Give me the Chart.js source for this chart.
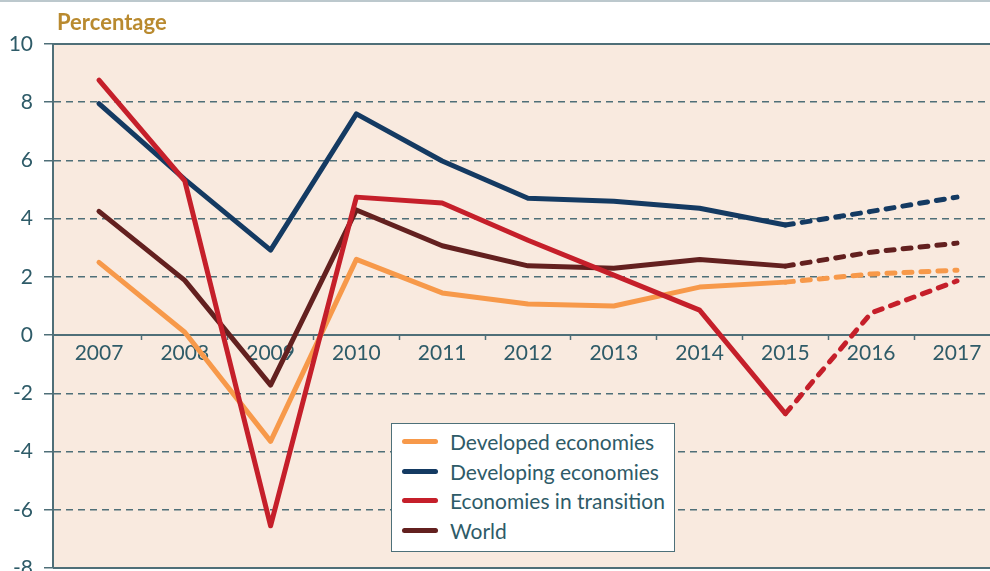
<!DOCTYPE html>
<html>
<head>
<meta charset="utf-8">
<script src="https://cdn.jsdelivr.net/npm/chart.js@4"></script>
<style>
  body { margin: 0; overflow: hidden; background: #fff; }
  #wrap { position: relative; width: 990px; height: 571px; }
  #unit { position: absolute; left: 57px; top: 8px; font: bold 22px Lato, sans-serif; color: #b98a2f; }
  #legend {
    position: absolute; left: 391px; top: 423px; width: 282px; height: 124px;
    background: #fff; border: 1.5px solid #4d7079; padding-top: 3px; box-sizing: content-box;
    font: 21px Lato, sans-serif; color: #2e5b68;
  }
  #legend .row { height: 29.5px; display: flex; align-items: center; }
  #legend .sw { width: 36px; height: 5px; border-radius: 3px; margin: 0 12px 0 10px; }
</style>
</head>
<body>
<div id="wrap">
  <canvas id="growthChart"></canvas>
  <div id="unit">Percentage</div>
  <div id="legend"></div>
</div>
<script>
// years on the x axis
const years = [2007, 2008, 2009, 2010, 2011, 2012, 2013, 2014, 2015, 2016, 2017];
const yTicks = [10, 8, 6, 4, 2, 0, -2, -4, -6, -8];

// series (2016, 2017 are projections -> dashed)
const developed = [2.5, 0.1, -3.65, 2.6, 1.45, 1.07, 1.0, 1.65, 1.82, 2.1, 2.23];
const developing = [7.95, 5.35, 2.92, 7.6, 5.98, 4.7, 4.6, 4.36, 3.78, 4.25, 4.74];
const transition = [8.76, 5.3, -6.55, 4.74, 4.54, 3.26, 2.06, 0.86, -2.7, 0.76, 1.86];
const world = [4.25, 1.88, -1.72, 4.3, 3.07, 2.38, 2.3, 2.6, 2.37, 2.85, 3.16];

const seriesNames = ['Developed economies', 'Developing economies', 'Economies in transition', 'World'];
const seriesColors = ['#f7994a', '#143a62', '#c51f2a', '#63201f'];
const seriesValues = [developed, developing, transition, world];
const seriesOrder = [2, 3, 0, 1]; // red on top

const axisColor = '#4f6f78';
const textColor = '#2e5b68';
const lastActual = years.indexOf(2015);

// html legend
const legendEl = document.getElementById('legend');
seriesNames.forEach((name, i) => {
  const row = document.createElement('div');
  row.className = 'row';
  row.innerHTML = '<span class="sw" style="background:' + seriesColors[i] + '"></span>' + name;
  legendEl.appendChild(row);
});

// background, top rule and frame lines
const framePlugin = {
  id: 'frame',
  beforeDraw(chart) {
    const { ctx, chartArea: a } = chart;
    ctx.save();
    ctx.fillStyle = '#f9eadf';
    ctx.fillRect(a.left, a.top, a.right - a.left, a.bottom - a.top);
    ctx.fillStyle = '#bcc8cd';
    ctx.fillRect(0, 0, chart.width, 2);
    ctx.restore();
  },
  beforeDatasetsDraw(chart) {
    const { ctx, chartArea: a, scales } = chart;
    ctx.save();
    ctx.strokeStyle = axisColor;
    ctx.lineWidth = 2;
    [10, 0, -8].forEach(v => {
      const y = Math.round(scales.y.getPixelForValue(v));
      ctx.beginPath();
      ctx.moveTo(a.left, y);
      ctx.lineTo(a.right, y);
      ctx.stroke();
    });
    ctx.restore();
  }
};

const ctx = document.getElementById('growthChart').getContext('2d');
new Chart(ctx, {
  type: 'line',
  data: {
    datasets: seriesValues.map((vals, i) => ({
      label: seriesNames[i],
      data: years.map((yr, j) => ({ x: yr, y: vals[j] })),
      borderColor: seriesColors[i],
      borderWidth: 5,
      borderCapStyle: 'round',
      borderJoinStyle: 'round',
      pointRadius: 0,
      tension: 0,
      order: seriesOrder[i],
      segment: {
        borderDash: c => (c.p0DataIndex >= lastActual ? [8, 9] : undefined)
      }
    }))
  },
  options: {
    responsive: true,
    maintainAspectRatio: false,
    animation: false,
    layout: { padding: { top: 44, bottom: 3, left: 0, right: 0 } },
    plugins: { legend: { display: false }, tooltip: { enabled: false } },
    scales: {
      x: {
        type: 'linear',
        min: 2006.464,
        max: 2017.385,
        position: { y: 0 },
        afterBuildTicks: s => { s.ticks = years.map(v => ({ value: v })); },
        grid: { display: false, drawTicks: false },
        border: { display: false },
        ticks: {
          padding: 6,
          color: textColor,
          font: { family: 'Lato', size: 21 },
          callback: v => String(v)
        }
      },
      xt: {
        type: 'linear',
        min: 2006.464,
        max: 2017.385,
        position: { y: 0 },
        afterBuildTicks: s => { s.ticks = years.slice(0, -1).map(v => ({ value: v + 0.5 })); },
        grid: { drawOnChartArea: false, drawTicks: true, tickLength: 5, tickColor: axisColor, tickWidth: 1.5 },
        border: { display: false },
        ticks: { display: false }
      },
      y: {
        min: -8,
        max: 10,
        afterBuildTicks: s => { s.ticks = yTicks.map(v => ({ value: v })); },
        afterFit: s => { s.width = 53; s.paddingTop = 0; s.paddingBottom = 0; },
        grid: {
          color: c => ([10, 0, -8].includes(c.tick.value) ? 'rgba(0,0,0,0)' : axisColor),
          lineWidth: 1.5,
          tickLength: 9,
          tickColor: axisColor,
          tickWidth: 1.5,
          tickBorderDash: []
        },
        border: { display: true, color: axisColor, width: 2, dash: [7, 5] },
        ticks: {
          padding: 11,
          color: textColor,
          font: { family: 'Lato', size: 21 }
        }
      }
    }
  },
  plugins: [framePlugin]
});
</script>
</body>
</html>
